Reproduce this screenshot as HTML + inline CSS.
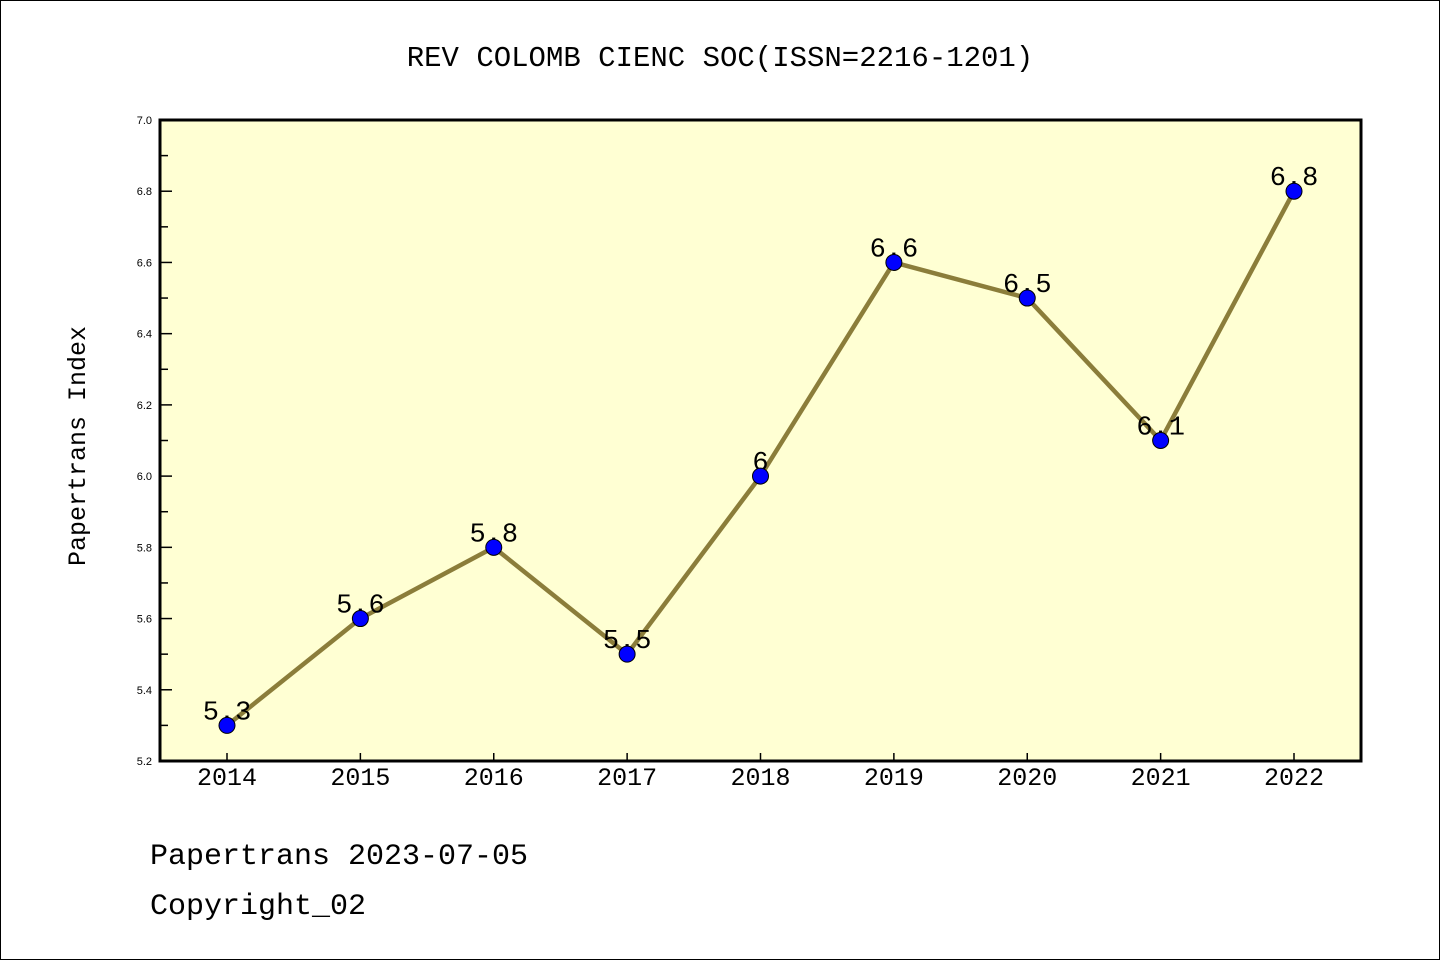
<!DOCTYPE html>
<html><head><meta charset="utf-8"><style>
html,body{margin:0;padding:0;background:#fff;}
body{width:1440px;height:960px;overflow:hidden;}
svg{display:block;font-family:"Liberation Mono","DejaVu Sans Mono",monospace;}
</style></head><body>
<svg id="chart" width="1440" height="960">
<rect x="0.5" y="0.5" width="1439" height="959" fill="#fff" stroke="#000"/>
<text x="720" y="66" text-anchor="middle" font-size="29">REV COLOMB CIENC SOC(ISSN=2216-1201)</text>
<text transform="translate(85,446) rotate(-90)" text-anchor="middle" font-size="25">Papertrans Index</text>
<rect x="160" y="120" width="1201" height="641" fill="#ffffd3"/>
<g id="ticks"></g>
<g id="marks"></g>
<rect x="160" y="120" width="1201" height="641" fill="none" stroke="#000" stroke-width="3"/>
<text x="150" y="864" font-size="30">Papertrans 2023-07-05</text>
<text x="150" y="914" font-size="30">Copyright_02</text>
</svg>
<script>
const years = ["2014","2015","2016","2017","2018","2019","2020","2021","2022"];
const values = [5.3,5.6,5.8,5.5,6.0,6.6,6.5,6.1,6.8];
const valueLabels = ["5.3","5.6","5.8","5.5","6","6.6","6.5","6.1","6.8"];
const yTickLabels = ["5.2","5.4","5.6","5.8","6.0","6.2","6.4","6.6","6.8","7.0"];
const yMin = 5.2, yMax = 7.0;
const NS = "http://www.w3.org/2000/svg";
const L = 160, R = 1361, T = 120, B = 761;
const x0 = 227, xStep = (1294 - 227) / 8;
function xs(i){ return x0 + i * xStep; }
function ys(v){ return B - (v - yMin) / (yMax - yMin) * (B - T); }
function mk(tag, attrs, parent){ const e = document.createElementNS(NS, tag); for (const k in attrs) e.setAttribute(k, attrs[k]); parent.appendChild(e); return e; }
const tg = document.getElementById('ticks');
yTickLabels.forEach((t) => {
  const v = parseFloat(t), y = ys(v);
  const ln = mk('line', {x1: L, x2: L + 12, y1: y, y2: y, stroke: '#000', 'stroke-width': 1.5}, tg);
  
  
  const tx = mk('text', {x: 152, y: y + 4, 'text-anchor': 'end', 'font-size': 11, 'font-family': 'Liberation Sans, sans-serif'}, tg);
  tx.textContent = t;
  
  
  if (v < yMax) {
    const ym = ys(v + 0.1);
    const mn = mk('line', {x1: L, x2: L + 8, y1: ym, y2: ym, stroke: '#000', 'stroke-width': 1.5}, tg);
    
    
  }
});
years.forEach((yr, i) => {
  const x = xs(i);
  const ln = mk('line', {x1: x, x2: x, y1: B, y2: B - 8, stroke: '#000', 'stroke-width': 1.5}, tg);
  
  
  const tx = mk('text', {x: x, y: 785, 'text-anchor': 'middle', 'font-size': 25}, tg);
  tx.textContent = yr;
  
  
});
const mg = document.getElementById('marks');
const pts = values.map((v, i) => xs(i) + ',' + ys(v)).join(' ');
const line = mk('polyline', {points: pts, fill: 'none', stroke: '#8b7d3a', 'stroke-width': 4.5, 'stroke-linejoin': 'round'}, mg);


values.forEach((v, i) => {
  const lb = mk('text', {x: xs(i), y: ys(v) - 6, 'text-anchor': 'middle', 'font-size': 27}, mg);
  lb.textContent = valueLabels[i];
  
  
});
values.forEach((v, i) => {
  const c = mk('circle', {cx: xs(i), cy: ys(v), r: 8, fill: '#0000ff', stroke: '#000', 'stroke-width': 1}, mg);
  
  
});
</script>
</body></html>
